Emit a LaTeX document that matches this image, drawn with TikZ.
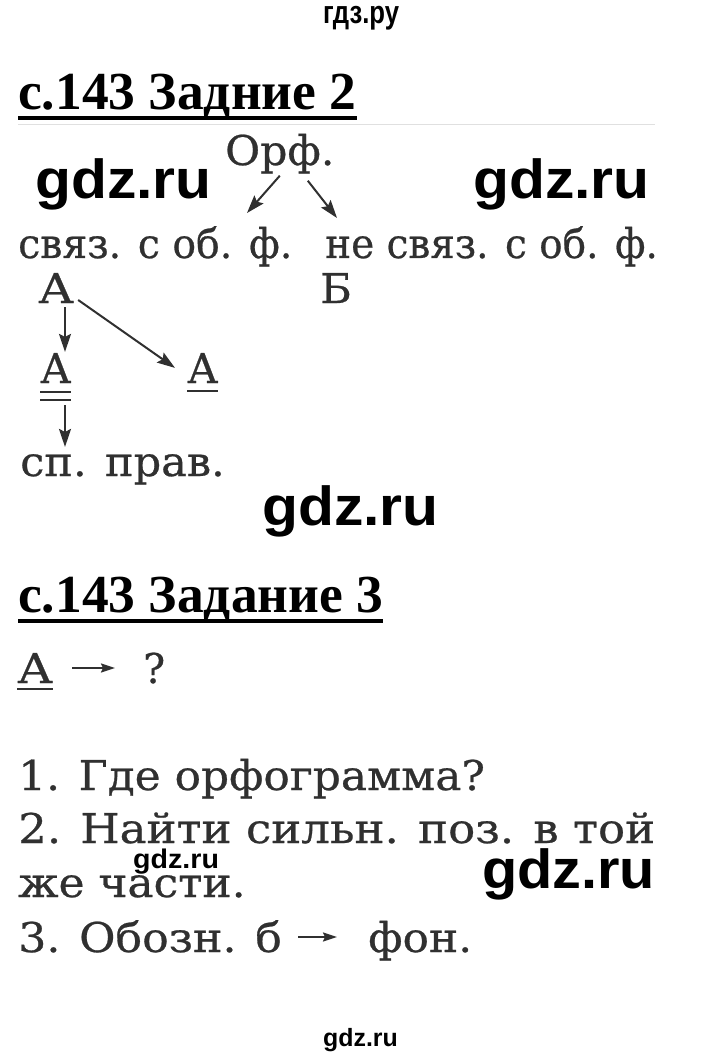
\documentclass[tikz,border=0pt]{standalone}
\usepackage{fontspec}
\setmainfont{DejaVu Serif}[FakeBold=0.6]
\newfontfamily\headfont{Liberation Serif}
\newfontfamily\wmfont{Liberation Sans}
\usetikzlibrary{arrows.meta}
\definecolor{ink}{HTML}{303030}
\tikzset{
  txt/.style={anchor=base west, inner sep=0pt, text=ink, font=\fontsize{41}{41}\selectfont},
  headline/.style={anchor=base west, inner sep=0pt, font=\headfont\bfseries\fontsize{53.5}{53.5}\selectfont},
  wmark/.style={anchor=base west, inner sep=0pt, xscale=1.07, font=\wmfont\bfseries\fontsize{55}{55}\selectfont},
  arr/.style={ink, line width=2pt, -{Stealth[length=18pt,width=12pt,inset=3pt]}},
  sarr/.style={ink, line width=2pt, -{Stealth[length=14pt,width=9pt,inset=2pt]}},
  uline/.style={ink, line width=2.8pt},
}
\begin{document}
\begin{tikzpicture}[x=1pt,y=-1pt]
\useasboundingbox (0,0) rectangle (720,1056);

% watermarks
\node[wmark, font=\wmfont\bfseries\fontsize{32}{32}\selectfont, xscale=0.75] (site) at (323,24) {гдз.ру};
\node[wmark] (wm1) at (35,199) {gdz.ru};
\node[wmark] (wm2) at (473,199) {gdz.ru};
\node[wmark] (wm3) at (262,525) {gdz.ru};
\node[wmark, xscale=0.98] (wm4) at (482,888) {gdz.ru};
\node[wmark, xscale=0.99, font=\wmfont\bfseries\fontsize{27}{27}\selectfont] (wm5) at (133,868) {gdz.ru};
\node[wmark, xscale=0.93, font=\wmfont\bfseries\fontsize{25}{25}\selectfont] (wm6) at (323,1046) {gdz.ru};

% task 2
\node[headline] (h1) at (18,110) {с.143 Задние 2};
\draw[line width=4pt] ([yshift=-8.5pt]h1.base west) -- ([yshift=-8.5pt]h1.base east);
\draw[black!12, line width=1pt] ([yshift=-15pt]h1.base west) -- +(637,0);

\node[txt, xscale=1.04] (orf) at (225,165) {Орф.};
\node[txt, xscale=0.96] (svyaz) at (18,258) {связ. с об. ф.};
\node[txt, xscale=0.95] (nesvyaz) at (325,258) {не связ. с об. ф.};
\coordinate (ltip) at (247,213);
\coordinate (rtip) at (337,218);
\draw[arr] ([yshift=-2pt]orf.south) -- (ltip);
\draw[arr] ([xshift=28pt,yshift=-7pt]orf.south) -- (rtip);

\node[txt, xscale=1.15] (a1) at (38,303) {А};
\node[txt, xscale=1.05] (b1) at (320,303) {Б};
\node[txt, xscale=1.0] (a2) at (40,383) {А};
\node[txt, xscale=1.0] (a3) at (187,383) {А};
\draw[uline] ([yshift=-9pt]a2.base west) -- ([yshift=-9pt]a2.base east);
\draw[uline] ([yshift=-17pt]a2.base west) -- ([yshift=-17pt]a2.base east);
\draw[uline] ([yshift=-8pt]a3.base west) -- ([yshift=-8pt]a3.base east);
\draw[arr] ([xshift=27pt,yshift=-4pt]a1.base west) -- ([xshift=25pt,yshift=1pt]a2.north west);
\draw[arr] ([xshift=4pt,yshift=3pt]a1.base east) -- ([xshift=-12pt,yshift=-15pt]a3.north west);

\node[txt, xscale=1.05] (prav) at (20,476) {сп. прав.};
\draw[arr] ([xshift=25pt,yshift=-22pt]a2.base west) -- ([xshift=45pt,yshift=7pt]prav.north west);

% task 3
\node[headline] (h2) at (18,612) {с.143 Задание 3};
\draw[line width=4pt] ([yshift=-8.5pt]h2.base west) -- ([yshift=-8.5pt]h2.base east);

\node[txt, xscale=1.15] (a4) at (17,683) {А};
\node[txt] (q) at (143,683) {?};
\draw[uline] ([yshift=-6pt]a4.base west) -- ([yshift=-6pt]a4.base east);
\draw[sarr] ([xshift=55pt,yshift=15pt]a4.base west) -- ([xshift=-28pt,yshift=15pt]q.base west);

\node[txt, xscale=1.07] (s1) at (18,790) {1. Где орфограмма?};
\node[txt, xscale=1.10] (s2) at (18,843) {2. Найти сильн. поз. в той};
\node[txt, xscale=1.07] (s3) at (18,897) {же части.};
\node[txt, xscale=1.08] (s4) at (18,952) {3. Обозн. б};
\node[txt, xscale=1.07] (s4b) at (368,952) {фон.};
\draw[sarr] ([xshift=280pt,yshift=15pt]s4.base west) -- ([xshift=-31pt,yshift=15pt]s4b.base west);
\end{tikzpicture}
\end{document}
